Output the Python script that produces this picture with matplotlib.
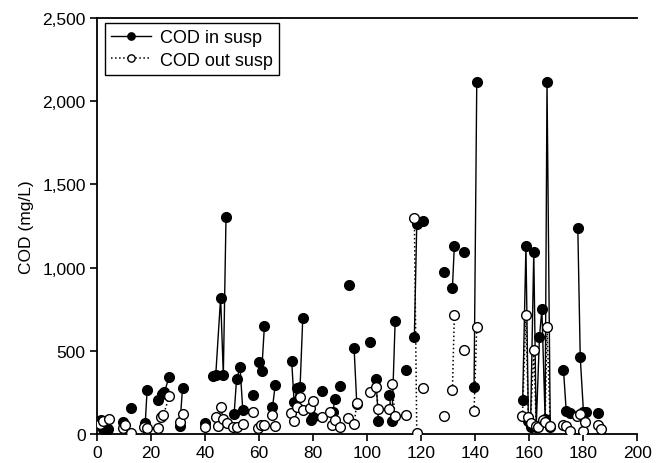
import numpy as np
import matplotlib
matplotlib.use("Agg")
import matplotlib.pyplot as plt
from matplotlib.ticker import FuncFormatter

nan = np.nan

# COD in suspension (filled markers); nan breaks the connecting line
day_in = [1.4, 2.3, 4.2, nan, 9.7, nan, 12.6, nan, 17.9, 18.6, nan,
          22.7, 24.0, 25.0, 26.7, nan, 30.7, 31.7, nan, 40.0, nan,
          43.0, 44.0, 45.8, 46.8, 47.8, nan, 50.8, 51.7, 53.0, 54.0, nan,
          57.9, nan, 60.0, 61.0, 62.0, nan, 65.0, 66.0, nan,
          72.1, 73.0, 74.2, 75.2, 76.2, nan, 79.2, 80.1, nan, 83.2, nan,
          87.3, 88.1, nan, 90.0, nan, 93.2, nan, 95.2, 96.2, nan, 101.1, nan,
          103.3, 104.2, nan, 108.3, 109.2, 110.4, nan, 114.3, nan,
          117.5, 118.4, 120.6, nan, 128.5, nan, 131.6, 132.3, nan, 135.7, nan,
          139.6, 140.6, nan,
          157.6, 158.8, 159.7, 160.5, 161.7, 162.6, 163.8, 164.7, 165.9, 166.6, 167.8, nan,
          172.7, 173.7, 175.0, nan, 178.0, 178.9, 180.1, 181.0, nan, 185.6]
cod_in = [85, 30, 30, nan, 70, nan, 156, nan, 65, 266, nan,
          204, 240, 250, 344, nan, 50, 276, nan, 66, nan,
          350, 355, 820, 355, 1306, nan, 120, 330, 400, 145, nan,
          234, nan, 435, 377, 647, nan, 160, 294, nan,
          440, 190, 274, 280, 695, nan, 86, 105, nan, 256, nan,
          134, 208, nan, 290, nan, 895, nan, 515, 180, nan, 551, nan,
          330, 80, nan, 232, 80, 680, nan, 386, nan,
          583, 1265, 1280, nan, 975, nan, 880, 1132, nan, 1092, nan,
          284, 2113, nan,
          206, 1132, 80, 40, 1096, 40, 581, 751, 90, 2113, 40, nan,
          386, 140, 126, nan, 1236, 461, 130, 130, nan, 126]

# COD out of suspension (open markers)
day_out = [1.1, 2.1, 4.6, nan, 9.7, 10.4, 12.5, nan, 17.5, 18.6, nan,
           22.7, 23.7, 24.6, 26.8, nan, 30.7, 31.7, nan, 40.0, nan,
           44.0, 44.7, 45.8, 46.8, 48.0, nan, 50.5, 51.7, 54.0, nan,
           57.9, nan, 59.7, 60.6, 62.0, nan, 65.0, 66.0, nan,
           72.0, 73.0, 74.2, 75.0, 76.2, nan, 79.0, 80.1, nan, 83.2, nan,
           86.3, 87.2, 88.1, 90.0, nan, 93.1, nan, 95.2, 96.2, nan, 101.1, nan,
           103.3, 104.2, nan, 108.3, 109.1, 110.4, nan, 114.3, nan,
           117.5, 118.4, nan, 120.6, nan, 128.5, nan, 131.6, 132.3, nan, 135.7, nan,
           139.6, 140.6, nan,
           157.5, 158.8, 159.7, 160.5, 161.7, 162.6, 163.4, 165.0, 165.9, 166.6, 167.8, nan,
           172.7, 173.7, 175.0, nan, 177.7, 178.9, 179.9, 180.7, nan, 185.6, 186.5]
cod_out = [60, 78, 90, nan, 34, 56, 4, nan, 40, 34, nan,
           36, 100, 114, 226, nan, 74, 120, nan, 40, nan,
           100, 50, 160, 90, 66, nan, 40, 44, 60, nan,
           134, nan, 34, 54, 54, nan, 114, 50, nan,
           126, 76, 160, 220, 144, nan, 156, 200, nan, 102, nan,
           134, 54, 84, 40, nan, 94, nan, 58, 186, nan, 254, nan,
           280, 150, nan, 150, 300, 110, nan, 112, nan,
           1300, 5, nan, 278, nan, 106, nan, 266, 715, nan, 505, nan,
           140, 641, nan,
           108, 715, 100, 66, 505, 50, 45, 86, 70, 641, 46, nan,
           54, 50, 20, nan, 106, 120, 20, 70, nan, 54, 30]

x_ticks = [0, 20, 40, 60, 80, 100, 120, 140, 160, 180, 200]
y_ticks = [0, 500, 1000, 1500, 2000, 2500]

plt.rcParams['font.family'] = ['Liberation Sans', 'DejaVu Sans']

fig = plt.figure(figsize=(6.59, 4.64), dpi=100)
ax = fig.add_axes([0.147, 0.0625, 0.82, 0.8965])

ax.plot(day_in, cod_in, '-', color='black', lw=1.0, marker='o', ms=7,
        mfc='black', mec='black', mew=1.0, label='COD in susp', zorder=3)
ax.plot(day_out, cod_out, ':', color='black', lw=1.1, marker='o', ms=7,
        mfc='white', mec='black', mew=1.0, label='COD out susp', zorder=4)

ax.set_xlim(0, 200)
ax.set_ylim(0, 2500)
ax.set_xticks(x_ticks)
ax.set_yticks(y_ticks)
ax.yaxis.set_major_formatter(FuncFormatter(lambda v, p: f"{int(v):,}"))
ax.tick_params(direction='out', length=5, width=1.2, labelsize=12.5, pad=3)
for s in ['left', 'bottom', 'top']:
    ax.spines[s].set_linewidth(1.3)
ax.spines['right'].set_visible(False)
ax.set_ylabel('COD (mg/L)', fontsize=12.5, labelpad=6)

leg = ax.legend(loc='upper left', bbox_to_anchor=(0.015, 0.988), borderaxespad=0,
                fontsize=13, frameon=True, fancybox=False, edgecolor='black',
                framealpha=1, handlelength=2.2, handletextpad=0.5, borderpad=0.35,
                labelspacing=0.3, markerscale=0.75)
leg.get_frame().set_linewidth(1.0)

fig.savefig('out.png', dpi=100)
